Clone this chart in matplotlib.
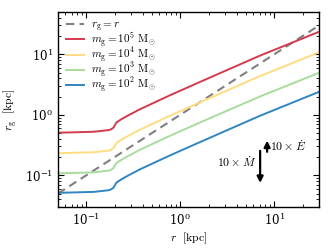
import matplotlib
matplotlib.use('Agg')
import matplotlib.pyplot as plt

plt.rcParams['mathtext.fontset'] = 'cm'
plt.rcParams['font.family'] = ['DejaVu Serif']

# radius [kpc] and group radius r_g [kpc]
r = [0.05, 0.12, 0.175, 0.185, 0.195, 0.2, 0.205, 0.21, 0.22, 0.24, 0.275, 0.37, 0.77, 1.6, 7.0, 30]
rg_1e2 = [0.0514, 0.0533, 0.0569, 0.059, 0.0625, 0.067, 0.072, 0.076, 0.080, 0.087, 0.098, 0.125, 0.212, 0.351, 0.96, 2.40]
rg_1e3 = [0.108, 0.112, 0.120, 0.124, 0.132, 0.141, 0.152, 0.160, 0.168, 0.183, 0.206, 0.263, 0.447, 0.74, 2.0, 4.95]
rg_1e4 = [0.232, 0.241, 0.257, 0.267, 0.283, 0.303, 0.326, 0.344, 0.362, 0.393, 0.443, 0.565, 0.958, 1.59, 4.34, 10.8]
rg_1e5 = [0.506, 0.525, 0.560, 0.581, 0.616, 0.660, 0.709, 0.749, 0.788, 0.857, 0.965, 1.23, 2.09, 3.46, 9.46, 23.6]

curves = [
    (rg_1e5, r'$m_{\rm g}=10^5\ {\rm M}_{\odot}$', '#d43a4c'),
    (rg_1e4, r'$m_{\rm g}=10^4\ {\rm M}_{\odot}$', '#fedc80'),
    (rg_1e3, r'$m_{\rm g}=10^3\ {\rm M}_{\odot}$', '#a9dc9c'),
    (rg_1e2, r'$m_{\rm g}=10^2\ {\rm M}_{\odot}$', '#2f86c0'),
]

fig = plt.figure(figsize=(3.31, 2.50), dpi=100)
ax = fig.add_axes([0.175, 0.172, 0.789, 0.780])

ax.plot([0.05, 30], [0.05, 30], ls=(0, (4, 2.5)), color='#808080', lw=1.5,
        label=r'$r_{\rm g}=r$')
for vals, lab, col in curves:
    ax.plot(r, vals, color=col, lw=1.4, label=lab)

ax.set_xscale('log')
ax.set_yscale('log')
ax.set_xlim(0.05, 30)
ax.set_ylim(0.03, 50)

arrow = dict(arrowstyle='-|>', color='k', lw=1.6, mutation_scale=9, shrinkA=0, shrinkB=0)
ax.annotate('', xy=(8.4, 0.375), xytext=(8.4, 0.245), arrowprops=arrow)
ax.text(9.0, 0.296, r'$10\times\dot{E}$', fontsize=8.5, ha='left', va='center')
ax.annotate('', xy=(7.08, 0.075), xytext=(7.08, 0.254), arrowprops=arrow)
ax.text(6.5, 0.161, r'$10\times\dot{M}$', fontsize=8.5, ha='right', va='center')

ax.set_xlabel(r'$r\ \ [{\rm kpc}]$', fontsize=8.5, labelpad=2)
ax.set_ylabel(r'$r_{\rm g}\ \ [{\rm kpc}]$', fontsize=8.5, labelpad=4)
ax.tick_params(which='both', direction='in', top=True, right=True, labelsize=8.5)
ax.tick_params(which='major', length=4, width=0.8)
ax.tick_params(which='minor', length=2, width=0.6)
for s in ax.spines.values():
    s.set_linewidth(1.0)

ax.legend(loc='upper left', frameon=False, fontsize=8, handlelength=1.6,
          labelspacing=-0.36, borderaxespad=0.35, handletextpad=0.6)

fig.savefig('out.png', dpi=100)
